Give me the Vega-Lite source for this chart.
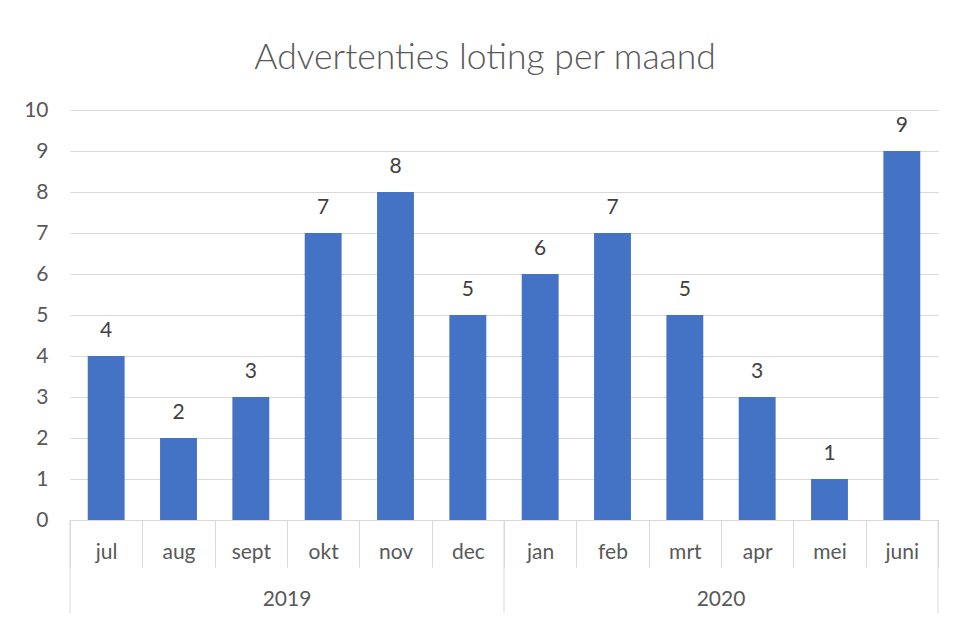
{
  "$schema": "https://vega.github.io/schema/vega-lite/v6.json",
  "autosize": {"type": "none"},
  "padding": {"left": 70, "top": 110, "right": 16, "bottom": 99},
  "width": 868,
  "height": 410,
  "background": "white",
  "config": {
    "view": {"stroke": null},
    "font": "Lato",
    "text": {"font": "Lato", "color": "#595959"}
  },
  "title": {
    "text": "Advertenties loting per maand",
    "font": "Lato",
    "fontSize": 35.5,
    "fontWeight": 300,
    "color": "#595959",
    "anchor": "middle",
    "frame": "bounds",
    "baseline": "alphabetic",
    "offset": -5,
    "dx": 4
  },
  "datasets": {
    "months": [
      {"maand": "jul", "jaar": "2019", "aantal": 4},
      {"maand": "aug", "jaar": "2019", "aantal": 2},
      {"maand": "sept", "jaar": "2019", "aantal": 3},
      {"maand": "okt", "jaar": "2019", "aantal": 7},
      {"maand": "nov", "jaar": "2019", "aantal": 8},
      {"maand": "dec", "jaar": "2019", "aantal": 5},
      {"maand": "jan", "jaar": "2020", "aantal": 6},
      {"maand": "feb", "jaar": "2020", "aantal": 7},
      {"maand": "mrt", "jaar": "2020", "aantal": 5},
      {"maand": "apr", "jaar": "2020", "aantal": 3},
      {"maand": "mei", "jaar": "2020", "aantal": 1},
      {"maand": "juni", "jaar": "2020", "aantal": 9}
    ],
    "years": [
      {"jaar": "2019", "start": "jul", "midden": "okt"},
      {"jaar": "2020", "start": "jan", "midden": "apr"}
    ],
    "end": [
      {"laatste": "juni"}
    ]
  },
  "layer": [
    {
      "data": {"name": "months"},
      "mark": {"type": "bar", "color": "#4472C4", "width": {"band": 0.51}},
      "encoding": {
        "x": {
          "field": "maand",
          "type": "nominal",
          "scale": {"type": "band", "paddingInner": 0, "paddingOuter": 0,
            "domain": ["jul","aug","sept","okt","nov","dec","jan","feb","mrt","apr","mei","juni"]},
          "axis": {
            "title": null,
            "labelAngle": 0,
            "labelFont": "Lato",
            "labelFontSize": 21,
            "labelColor": "#595959",
            "labelBaseline": "middle",
            "labelPadding": -15,
            "domainColor": "#d9d9d9",
            "domainWidth": 1,
            "tickColor": "#d9d9d9",
            "tickWidth": 1,
            "tickSize": 47,
            "tickBand": "extent",
            "grid": false
          }
        },
        "y": {
          "field": "aantal",
          "type": "quantitative",
          "scale": {"domain": [0, 10], "nice": false},
          "axis": {
            "title": null,
            "values": [0,1,2,3,4,5,6,7,8,9,10],
            "labelFont": "Lato",
            "labelFontSize": 21,
            "labelColor": "#595959",
            "labelPadding": 22,
            "domain": false,
            "ticks": false,
            "grid": true,
            "gridColor": "#d9d9d9",
            "gridWidth": 1
          }
        }
      }
    },
    {
      "data": {"name": "months"},
      "mark": {"type": "text", "fontSize": 21, "baseline": "middle", "dy": -25, "color": "#404040"},
      "encoding": {
        "x": {"field": "maand", "type": "nominal"},
        "y": {"field": "aantal", "type": "quantitative"},
        "text": {"field": "aantal", "type": "quantitative"}
      }
    },
    {
      "data": {"name": "years"},
      "mark": {"type": "rule", "color": "#d9d9d9", "strokeWidth": 1},
      "encoding": {
        "x": {"field": "start", "type": "nominal", "bandPosition": 0},
        "y": {"datum": 0},
        "y2": {"datum": -2.27}
      }
    },
    {
      "data": {"name": "end"},
      "mark": {"type": "rule", "color": "#d9d9d9", "strokeWidth": 1},
      "encoding": {
        "x": {"field": "laatste", "type": "nominal", "bandPosition": 1},
        "y": {"datum": 0},
        "y2": {"datum": -2.27}
      }
    },
    {
      "data": {"name": "years"},
      "mark": {"type": "text", "fontSize": 21, "baseline": "middle", "color": "#595959"},
      "encoding": {
        "x": {"field": "midden", "type": "nominal", "bandPosition": 0},
        "y": {"datum": -1.95},
        "text": {"field": "jaar", "type": "nominal"}
      }
    }
  ]
}
